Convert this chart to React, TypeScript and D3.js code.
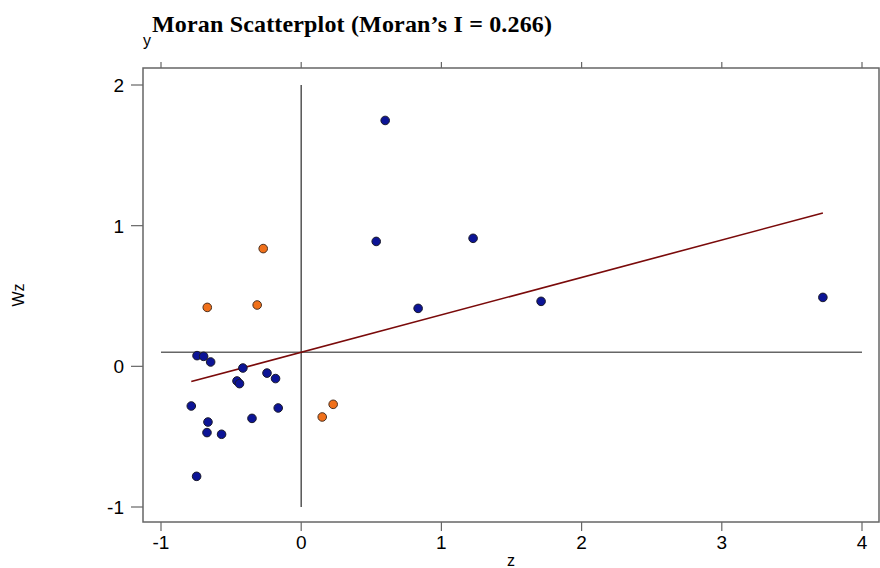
import React from 'react';
import * as d3 from 'd3';

// standardised values (z) and spatial lag (Wz)
const zHigh = [0.599, 0.535, 1.226, 0.834, 1.711, 3.721];
const wzHigh = [1.748, 0.888, 0.91, 0.412, 0.462, 0.49];
const zLow = [-0.743, -0.696, -0.646, -0.416, -0.458, -0.44, -0.244, -0.183, -0.784, -0.164, -0.351, -0.665, -0.672, -0.568, -0.746];
const wzLow = [0.076, 0.071, 0.031, -0.012, -0.104, -0.123, -0.048, -0.087, -0.282, -0.296, -0.37, -0.396, -0.471, -0.483, -0.782];
const zOut = [0.228, 0.15, -0.271, -0.314, -0.67];
const wzOut = [-0.27, -0.36, 0.837, 0.436, 0.419];

const xTicks = [-1, 0, 1, 2, 3, 4];
const yTicks = [-1, 0, 1, 2];
const moranI = 0.266;
const intercept = 0.1;

const W = 880;
const H = 568;
const sans = "'Liberation Sans', Arial, sans-serif";

export default function App() {
	const x = d3.scaleLinear().domain([-1, 4]).range([161, 862]);
	const y = d3.scaleLinear().domain([-1, 2]).range([507, 85]);
	const box = { left: 143, right: 879, top: 68, bottom: 522 };

	const blue = zHigh.map((z, i) => ({ z, wz: wzHigh[i] })).concat(zLow.map((z, i) => ({ z, wz: wzLow[i] })));
	const orange = zOut.map((z, i) => ({ z, wz: wzOut[i] }));
	const allZ = zHigh.concat(zLow, zOut);
	const [zMin, zMax] = d3.extent(allZ) as [number, number];

	const fit = d3
		.line<number>()
		.x(d => x(d))
		.y(d => y(intercept + moranI * d));

	return (
		<svg width={W} height={H} style={{ position: 'absolute', left: 0, top: 0 }}>
			<rect width={W} height={H} fill="white" />
			<text x={152} y={32} fontFamily="'Liberation Serif', serif" fontWeight="bold" fontSize={24} textLength={400}>
				Moran Scatterplot (Moran’s I = 0.266)
			</text>
			<text x={143} y={46} fontFamily={sans} fontSize={16}>
				y
			</text>
			{/* frame */}
			<rect
				x={box.left}
				y={box.top}
				width={box.right - box.left}
				height={box.bottom - box.top}
				fill="none"
				stroke="#666"
				strokeWidth={1.5}
			/>
			{/* top ticks */}
			{xTicks.map(t => (
				<line key={'tt' + t} x1={x(t)} x2={x(t)} y1={box.top} y2={box.top - 6} stroke="#666" strokeWidth={1.2} />
			))}
			{/* bottom axis */}
			{xTicks.map(t => (
				<g key={'bx' + t}>
					<line x1={x(t)} x2={x(t)} y1={box.bottom} y2={box.bottom + 9} stroke="#666" strokeWidth={1.2} />
					<text x={x(t)} y={549} textAnchor="middle" fontFamily={sans} fontSize={19}>
						{t}
					</text>
				</g>
			))}
			{/* left axis */}
			{yTicks.map(t => (
				<g key={'ly' + t}>
					<line x1={box.left} x2={box.left - 12} y1={y(t)} y2={y(t)} stroke="#666" strokeWidth={1.2} />
					<text x={124} y={y(t)} dy="0.36em" textAnchor="end" fontFamily={sans} fontSize={19}>
						{t}
					</text>
				</g>
			))}
			<text x={511} y={566} textAnchor="middle" fontFamily={sans} fontSize={16}>
				z
			</text>
			<text transform="translate(24,295) rotate(-90)" textAnchor="middle" fontFamily={sans} fontSize={16}>
				Wz
			</text>
			{/* reference lines */}
			<line x1={x(0)} x2={x(0)} y1={y(2)} y2={y(-1)} stroke="#555" strokeWidth={1.5} />
			<line x1={x(-1)} x2={x(4)} y1={y(intercept)} y2={y(intercept)} stroke="#666" strokeWidth={1.5} />
			{/* regression line */}
			<path d={fit([zMin, zMax]) || ''} fill="none" stroke="#7a0a0a" strokeWidth={1.6} />
			{/* points */}
			{blue.map((d, i) => (
				<circle key={'b' + i} cx={x(d.z)} cy={y(d.wz)} r={4.3} fill="#0c1496" stroke="#1a1a2a" strokeWidth={1} />
			))}
			{orange.map((d, i) => (
				<circle key={'o' + i} cx={x(d.z)} cy={y(d.wz)} r={4.3} fill="#f0701a" stroke="#4a3020" strokeWidth={1} />
			))}
		</svg>
	);
}
